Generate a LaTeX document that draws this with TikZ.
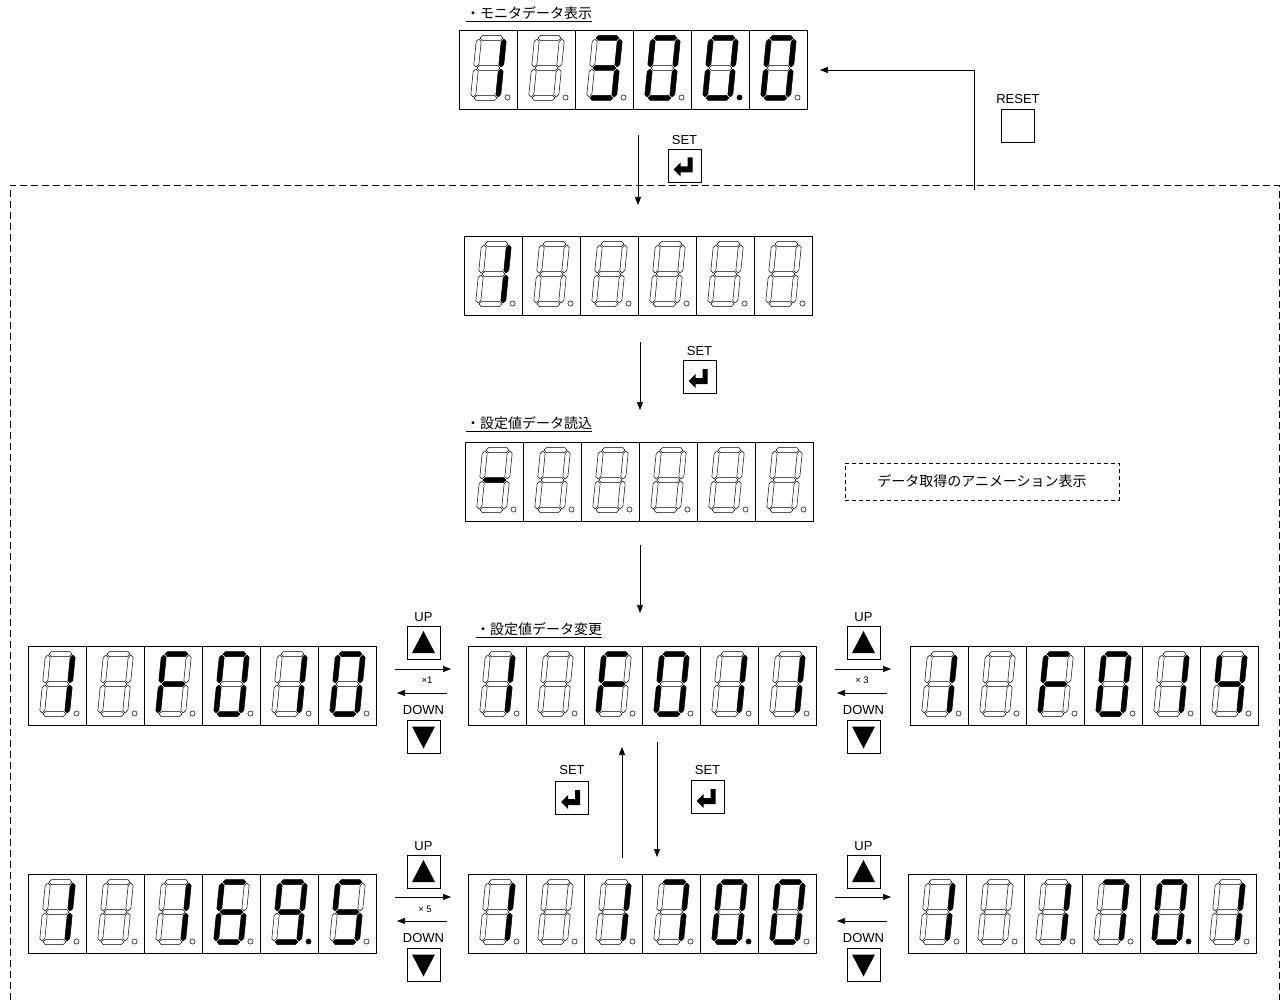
\documentclass[tikz,border=0pt]{standalone}
\usepackage{fontspec}
\setmainfont{Liberation Sans}
\newfontfamily\jp{Noto Sans CJK JP}
\usetikzlibrary{arrows.meta}
\tikzset{
  digbox/.style={draw, line width=0.7pt, minimum width=58pt, minimum height=79pt, inner sep=0pt, outer sep=0pt},
  segoff/.style={draw, line width=0.5pt, fill=white},
  seglit/.style={draw, line width=0.5pt, fill=black},
  keybox/.style={draw, line width=0.7pt, minimum width=33pt, minimum height=33pt, inner sep=0pt},
  arr/.style={-{Triangle[length=8pt,width=6pt]}, line width=0.7pt},
  lbl/.style={font=\fontsize{13}{15}\selectfont, inner sep=0pt},
  small/.style={font=\fontsize{9.5}{11}\selectfont, inner sep=0pt},
  jptitle/.style={font=\jp\fontsize{14}{16}\selectfont, anchor=west, inner sep=0pt},
  frame/.style={line width=0.7pt, dash pattern=on 7pt off 4pt}
}
\makeatletter
\newcommand\dseg[3]{\in@{#1}{#2}\ifin@\path[seglit] #3 -- cycle;\else\path[segoff] #3 -- cycle;\fi}
\newcommand\digit[4]{%
  \node[digbox] (#1) at ({#2+29},{#3+39.5}) {};
  \begin{scope}[shift={({#2+29.5},{#3+38})},xslant=0.1]
    \dseg{a}{#4}{(-11.5,-30) -- (-9,-32.5) -- (9,-32.5) -- (11.5,-30) -- (9,-27.5) -- (-9,-27.5)}
    \dseg{g}{#4}{(-11.5,0) -- (-9,-2.5) -- (9,-2.5) -- (11.5,0) -- (9,2.5) -- (-9,2.5)}
    \dseg{d}{#4}{(-11.5,30) -- (-9,27.5) -- (9,27.5) -- (11.5,30) -- (9,32.5) -- (-9,32.5)}
    \dseg{b}{#4}{(12.5,-29) -- (15,-26.5) -- (15,-3.5) -- (12.5,-1) -- (10,-3.5) -- (10,-26.5)}
    \dseg{c}{#4}{(12.5,1) -- (15,3.5) -- (15,26.5) -- (12.5,29) -- (10,26.5) -- (10,3.5)}
    \dseg{f}{#4}{(-12.5,-29) -- (-10,-26.5) -- (-10,-3.5) -- (-12.5,-1) -- (-15,-3.5) -- (-15,-26.5)}
    \dseg{e}{#4}{(-12.5,1) -- (-10,3.5) -- (-10,26.5) -- (-12.5,29) -- (-15,26.5) -- (-15,3.5)}
  \end{scope}
  \in@{p}{#4}\ifin@\path[seglit] ({#2+48.5},{#3+67.5}) circle[radius=2.6];\else\path[segoff] ({#2+48.5},{#3+67.5}) circle[radius=2.6];\fi
}
\makeatother
\newcommand\display[9]{%
  \digit{#1-1}{#2}{#3}{#4}%
  \digit{#1-2}{#2+58}{#3}{#5}%
  \digit{#1-3}{#2+116}{#3}{#6}%
  \digit{#1-4}{#2+174}{#3}{#7}%
  \digit{#1-5}{#2+232}{#3}{#8}%
  \digit{#1-6}{#2+290}{#3}{#9}}
\newcommand\setkey[3]{%
  \node[keybox] (#1) at (#2,#3) {};
  \fill[shift={(#1.center)}] (8,-8) -- (8,7) -- (-4,7) -- (-4,11) -- (-11,4) -- (-4,-3) -- (-4,1) -- (3,1) -- (3,-8) -- cycle;}
\newcommand\upkey[3]{%
  \node[keybox] (#1) at (#2,#3) {};
  \fill[shift={(#1.center)}] (0,-12) -- (11.5,10) -- (-11.5,10) -- cycle;}
\newcommand\downkey[3]{%
  \node[keybox] (#1) at (#2,#3) {};
  \fill[shift={(#1.center)}] (0,12) -- (11.5,-10) -- (-11.5,-10) -- cycle;}
\begin{document}
\begin{tikzpicture}[x=1pt,y=-1pt]
\useasboundingbox (0,0) rectangle (1287,1000);
% outer dashed frame
\coordinate (fbl) at (10,1000);
\coordinate (ftl) at (10,185);
\coordinate (ftr) at (1279,185);
\coordinate (fbr) at (1279,1000);
\draw[frame] (fbl) -- (ftl) -- (ftr) -- (fbr);

% titles
\node[jptitle] (t1) at (466,14) {\underline{・モニタデータ表示}};
\node[jptitle] (t2) at (466,424) {\underline{・設定値データ読込}};
\node[jptitle] (t3) at (476,630) {\underline{・設定値データ変更}};

% displays
\display{mon}{459}{30}{bc}{}{abgcd}{abcdef}{abcdefp}{abcdef}
\display{st}{464}{236}{bc}{}{}{}{}{}
\display{rd}{465}{442}{g}{}{}{}{}{}
\display{ch}{468}{646}{bc}{}{afeg}{abcdef}{bc}{bc}
\display{lf}{28}{646}{bc}{}{afeg}{abcdef}{bc}{abcdef}
\display{rt}{910}{646}{bc}{}{afeg}{abcdef}{bc}{bcfg}
\display{bm}{468}{874}{bc}{}{bc}{abc}{abcdefp}{abcdef}
\display{bl}{28}{874}{bc}{}{bc}{acdefg}{abcdfgp}{acdfg}
\display{br}{908}{874}{bc}{}{bc}{abc}{abcdefp}{bc}

% animation note
\node[draw, line width=0.7pt, dash pattern=on 4pt off 3pt, minimum width=274pt, minimum height=37pt, inner sep=0pt, font=\jp\fontsize{14}{16}\selectfont] (anim) at (982,481.5) {データ取得のアニメーション表示};

% RESET
\node[lbl] (trst) at (1018,99) {RESET};
\node[keybox] (krst) at (1018,125.5) {};

% SET keys
\node[lbl] (ts1) at (684.5,140) {SET};
\setkey{ks1}{684.5}{165.5}
\node[lbl] (ts2) at (699.5,351) {SET};
\setkey{ks2}{699.5}{377}
\node[lbl] (ts3) at (572,770) {SET};
\setkey{ks3}{572}{798}
\node[lbl] (ts4) at (707.5,770) {SET};
\setkey{ks4}{707.5}{797}

% UP / DOWN keys
\node[lbl] (tu1) at (423.5,617) {UP};
\upkey{ku1}{423.5}{643}
\node[lbl] (td1) at (423.5,710) {DOWN};
\downkey{kd1}{423.5}{736.5}
\node[lbl] (tu2) at (863.5,617) {UP};
\upkey{ku2}{863.5}{643}
\node[lbl] (td2) at (863.5,710) {DOWN};
\downkey{kd2}{863.5}{736.5}
\node[lbl] (tu3) at (423.5,846) {UP};
\upkey{ku3}{423.5}{872}
\node[lbl] (td3) at (423.5,938) {DOWN};
\downkey{kd3}{423.5}{964.5}
\node[lbl] (tu4) at (863.5,846) {UP};
\upkey{ku4}{863.5}{872}
\node[lbl] (td4) at (863.5,938) {DOWN};
\downkey{kd4}{863.5}{964.5}

\node[small] (x1) at (427,680) {×1};
\node[small] (x3) at (862,680) {× 3};
\node[small] (x5) at (425,909) {× 5};

% arrows
\coordinate (a1s) at (638,135);  \coordinate (a1e) at (638,205);
\draw[arr] (a1s) -- (a1e);
\coordinate (rs) at (974,190); \coordinate (rc) at (974,70); \coordinate (re) at (820,70);
\draw[arr] (rs) -- (rc) -- (re);
\coordinate (a2s) at (640,342);  \coordinate (a2e) at (640,410);
\draw[arr] (a2s) -- (a2e);
\coordinate (a3s) at (640,545);  \coordinate (a3e) at (640,613);
\draw[arr] (a3s) -- (a3e);
\coordinate (a4s) at (657,742);  \coordinate (a4e) at (657,857);
\draw[arr] (a4s) -- (a4e);
\coordinate (a5s) at (622,858);  \coordinate (a5e) at (622,747);
\draw[arr] (a5s) -- (a5e);
% horizontal pairs
\coordinate (h1s) at (395,669); \coordinate (h1e) at (451,669);
\draw[arr] (h1s) -- (h1e);
\coordinate (h2s) at (447,693); \coordinate (h2e) at (397,693);
\draw[arr] (h2s) -- (h2e);
\coordinate (h3s) at (835,669); \coordinate (h3e) at (891,669);
\draw[arr] (h3s) -- (h3e);
\coordinate (h4s) at (887,693); \coordinate (h4e) at (837,693);
\draw[arr] (h4s) -- (h4e);
\coordinate (h5s) at (395,897); \coordinate (h5e) at (451,897);
\draw[arr] (h5s) -- (h5e);
\coordinate (h6s) at (447,921); \coordinate (h6e) at (397,921);
\draw[arr] (h6s) -- (h6e);
\coordinate (h7s) at (835,897); \coordinate (h7e) at (891,897);
\draw[arr] (h7s) -- (h7e);
\coordinate (h8s) at (887,921); \coordinate (h8e) at (837,921);
\draw[arr] (h8s) -- (h8e);
\end{tikzpicture}
\end{document}
